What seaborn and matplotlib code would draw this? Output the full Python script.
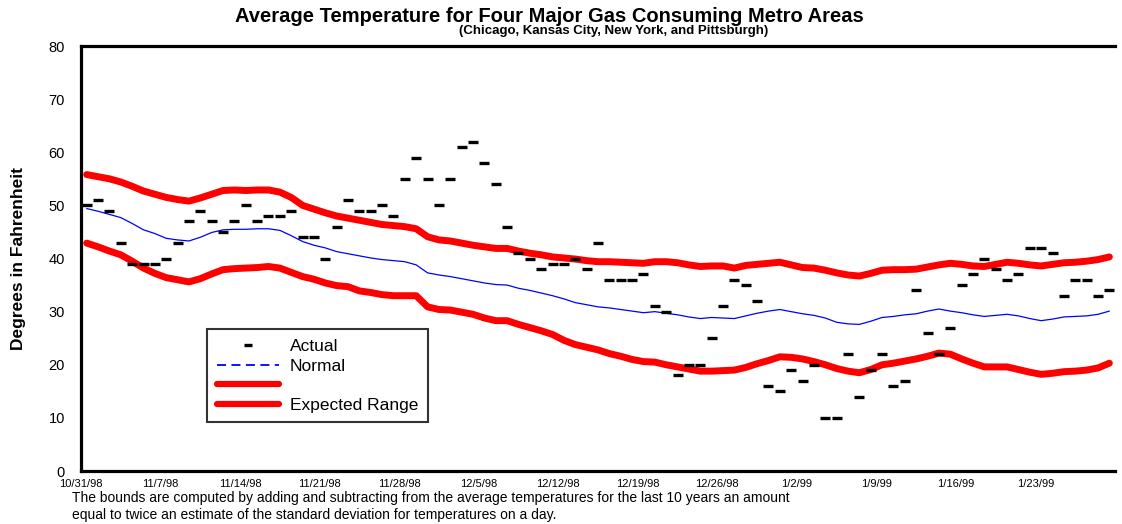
import numpy as np
import pandas as pd
import matplotlib
matplotlib.use('Agg')
import matplotlib.pyplot as plt
from matplotlib.lines import Line2D
import seaborn as sns

# Daily data, 10/31/98 through 1/29/99
dates = pd.date_range('1998-10-31', '1999-01-29', freq='D')

actual = [50, 51, 49, 43, 39, 39, 39, 40, 43, 47, 49, 47, 45, 47, 50, 47, 48, 48, 49, 44,
          44, 40, 46, 51, 49, 49, 50, 48, 55, 59, 55, 50, 55, 61, 62, 58, 54, 46, 41, 40,
          38, 39, 39, 40, 38, 43, 36, 36, 36, 37, 31, 30, 18, 20, 20, 25, 31, 36, 35, 32,
          16, 15, 19, 17, 20, 10, 10, 22, 14, 19, 22, 16, 17, 34, 26, 22, 27, 35, 37, 40,
          38, 36, 37, 42, 42, 41, 33, 36, 36, 33, 34]

normal = [49.4, 48.9, 48.3, 47.7, 46.6, 45.4, 44.7, 43.8, 43.5, 43.3, 44.0, 44.9, 45.4, 45.5,
          45.5, 45.6, 45.6, 45.3, 44.3, 43.2, 42.5, 42.0, 41.3, 40.9, 40.5, 40.1, 39.8, 39.6,
          39.4, 38.8, 37.3, 36.9, 36.6, 36.2, 35.8, 35.4, 35.1, 35.0, 34.4, 34.0, 33.5, 33.0,
          32.4, 31.7, 31.3, 30.9, 30.7, 30.4, 30.1, 29.8, 30.0, 29.7, 29.4, 29.0, 28.7, 28.9,
          28.8, 28.7, 29.2, 29.7, 30.1, 30.4, 30.0, 29.6, 29.3, 28.8, 28.0, 27.7, 27.6, 28.2,
          28.9, 29.1, 29.4, 29.6, 30.1, 30.5, 30.1, 29.8, 29.4, 29.1, 29.3, 29.5, 29.2, 28.7,
          28.3, 28.6, 29.0, 29.1, 29.2, 29.5, 30.1]

upper = [55.8, 55.4, 55.0, 54.4, 53.6, 52.7, 52.1, 51.5, 51.1, 50.8, 51.4, 52.1, 52.8, 52.9,
         52.8, 52.9, 52.9, 52.5, 51.5, 50.0, 49.3, 48.6, 48.0, 47.6, 47.2, 46.8, 46.4, 46.2,
         46.0, 45.6, 44.1, 43.5, 43.3, 42.9, 42.5, 42.2, 41.9, 41.9, 41.4, 41.0, 40.7, 40.3,
         40.1, 39.9, 39.6, 39.4, 39.4, 39.3, 39.2, 39.1, 39.4, 39.4, 39.2, 38.8, 38.5, 38.6,
         38.6, 38.2, 38.7, 38.9, 39.1, 39.3, 38.8, 38.3, 38.2, 37.8, 37.3, 36.9, 36.7, 37.2,
         37.8, 37.9, 37.9, 38.0, 38.4, 38.8, 39.1, 38.9, 38.6, 38.5, 38.9, 39.3, 39.1, 38.8,
         38.6, 38.9, 39.2, 39.3, 39.5, 39.8, 40.3]

lower = [42.9, 42.2, 41.4, 40.7, 39.5, 38.2, 37.2, 36.4, 36.0, 35.6, 36.2, 37.1, 37.9, 38.1,
         38.2, 38.3, 38.5, 38.2, 37.4, 36.6, 36.1, 35.4, 34.9, 34.7, 33.9, 33.6, 33.2, 33.0,
         33.0, 33.0, 30.9, 30.4, 30.3, 29.9, 29.5, 28.8, 28.3, 28.3, 27.6, 27.0, 26.4, 25.7,
         24.6, 23.8, 23.3, 22.8, 22.1, 21.6, 21.0, 20.6, 20.5, 20.0, 19.6, 19.2, 18.8, 18.8,
         18.9, 19.0, 19.5, 20.2, 20.8, 21.5, 21.4, 21.1, 20.6, 20.0, 19.3, 18.8, 18.5, 19.1,
         20.0, 20.3, 20.7, 21.1, 21.6, 22.2, 22.0, 21.1, 20.3, 19.6, 19.6, 19.6, 19.1, 18.6,
         18.2, 18.4, 18.7, 18.8, 19.0, 19.4, 20.3]

tick_labels = ['10/31/98', '11/7/98', '11/14/98', '11/21/98', '11/28/98', '12/5/98', '12/12/98',
               '12/19/98', '12/26/98', '1/2/99', '1/9/99', '1/16/99', '1/23/99']

df = pd.DataFrame({'date': dates, 'actual': actual, 'normal': normal,
                   'upper': upper, 'lower': lower})
# category axis: each day sits in the middle of its slot
df['pos'] = np.arange(len(df)) + 0.5

sns.set_theme(style='white')
plt.rcParams['font.family'] = ['Liberation Sans', 'DejaVu Sans']
plt.rcParams['text.color'] = 'black'
plt.rcParams['axes.labelcolor'] = 'black'
plt.rcParams['xtick.color'] = 'black'
plt.rcParams['ytick.color'] = 'black'

fig = plt.figure(figsize=(11.22, 5.24), dpi=100)
ax = fig.add_axes([0.0722, 0.1011, 0.9216, 0.8111])

sns.lineplot(data=df, x='pos', y='upper', color='#ff0000', linewidth=5, ax=ax)
sns.lineplot(data=df, x='pos', y='lower', color='#ff0000', linewidth=5, ax=ax)
sns.lineplot(data=df, x='pos', y='normal', color='#0000ff', linewidth=0.9, ax=ax)
sns.scatterplot(data=df, x='pos', y='actual', marker='_', s=42, linewidth=2.4,
                color='black', ax=ax, zorder=5)

ax.set_xlim(0, len(df))
ax.set_ylim(0, 80)
ax.set_yticks(range(0, 81, 10))
ax.set_yticklabels([str(v) for v in range(0, 81, 10)], fontsize=10.5)
ax.set_xticks(range(0, 85, 7))
ax.set_xticklabels(tick_labels, fontsize=8)
ax.tick_params(axis='both', direction='inout', length=7, width=1.2, colors='black')
ax.tick_params(axis='y', pad=8)
ax.tick_params(axis='x', pad=2)

for side in ['left', 'bottom', 'top']:
    ax.spines[side].set_visible(True)
    ax.spines[side].set_linewidth(2.3)
    ax.spines[side].set_color('black')
ax.spines['right'].set_visible(False)

ax.set_xlabel('')
ax.set_ylabel('Degrees in Fahrenheit', fontsize=12.5, fontweight='bold', labelpad=16)

# legend: dashed sample for Normal, two red samples for the range bounds
handles = [
    Line2D([], [], color='black', marker='_', linestyle='', markersize=6, markeredgewidth=2.4),
    Line2D([], [], color='#0000ff', linestyle=(0, (5, 3)), linewidth=1.3),
    Line2D([], [], color='#ff0000', linewidth=4.5),
    Line2D([], [], color='#ff0000', linewidth=4.5),
]
labels = ['Actual', 'Normal', ' ', 'Expected Range']
leg = ax.legend(handles, labels, loc='lower left', bbox_to_anchor=(0.122, 0.115),
                frameon=True, fancybox=False, fontsize=12.5, handlelength=3.6,
                labelspacing=0.25, borderpad=0.55, handletextpad=0.6,
                borderaxespad=0)
leg.get_frame().set_edgecolor('black')
leg.get_frame().set_linewidth(1.5)

fig.text(0.49, 0.968, 'Average Temperature for Four Major Gas Consuming Metro Areas',
         ha='center', va='center', fontsize=14.5, fontweight='bold')
fig.text(0.547, 0.94, '(Chicago, Kansas City, New York, and Pittsburgh)',
         ha='center', va='center', fontsize=9.5, fontweight='bold')

fig.text(0.064, 0.05,
         'The bounds are computed by adding and subtracting from the average temperatures '
         'for the last 10 years an amount',
         ha='left', va='center', fontsize=10)
fig.text(0.064, 0.018,
         'equal to twice an estimate of the standard deviation for temperatures on a day.',
         ha='left', va='center', fontsize=10)

fig.savefig('out.png', dpi=100)
